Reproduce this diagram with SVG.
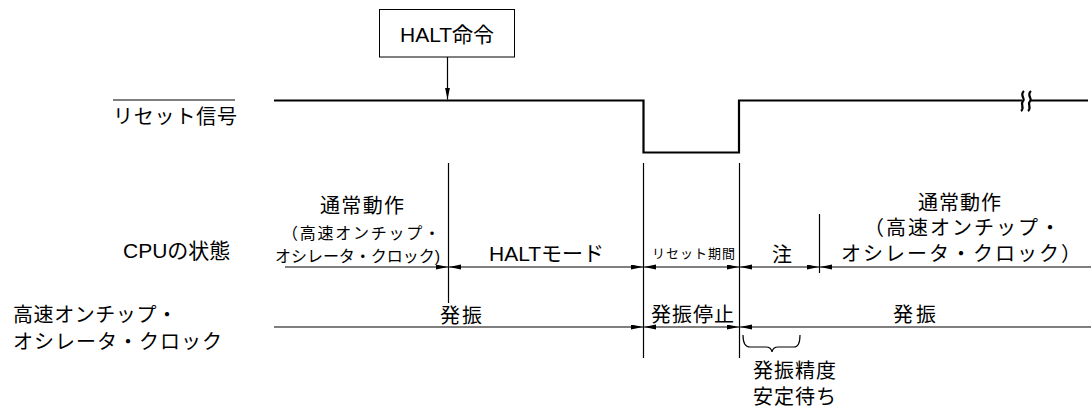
<svg xmlns="http://www.w3.org/2000/svg" width="1092" height="412" viewBox="0 0 1092 412">
<style>
text{font-family:"Liberation Sans","Noto Sans CJK JP",sans-serif;fill:#000;font-size:20px}
.l{font-size:21px}
.s{font-size:16px}
.xs{font-size:13px}
.sig{fill:none;stroke:#000;stroke-width:2.2}
.ln{fill:none;stroke:#000;stroke-width:1.2}
.brk{fill:none;stroke:#000;stroke-width:2.2}
.ar{fill:none;stroke:#000;stroke-width:1.2;marker-end:url(#ah)}
.ar2{fill:none;stroke:#000;stroke-width:1.2;marker-start:url(#ah);marker-end:url(#ah)}
.arl{fill:none;stroke:#000;stroke-width:1.2;marker-start:url(#ah)}
.box{fill:#fff;stroke:#000;stroke-width:1}
</style>
<defs>
<marker id="ah" markerUnits="userSpaceOnUse" markerWidth="13" markerHeight="6" refX="12" refY="2.5" orient="auto-start-reverse" viewBox="0 0 13 6">
<path d="M0,0 L12,2.5 L0,5 z" fill="#000"/>
</marker>
</defs>
<g id="halt-cmd">
<rect class="box" x="379.5" y="9.5" width="135" height="47.5"/>
<text class="l" x="400" y="42">HALT命令</text>
</g>
<g id="labels">
<line class="ln" x1="113" y1="100" x2="235" y2="100"/>
<text x="113" y="124" textLength="124">リセット信号</text>
<text class="l" x="123" y="258">CPUの状態</text>
<text x="13" y="322" textLength="164">高速オンチップ・</text>
<text x="13" y="348.5" textLength="209">オシレータ・クロック</text>
</g>
<g id="reset-signal">
<path class="sig" d="M274,100.5 H643.5 V152.5 H739 V100.5 H1022 M1030,100.5 H1088"/>
<path class="brk" d="M1024,91 C1019,95 1026,99 1023,101 C1020,104 1025,108 1021,111 M1031,91 C1026,95 1033,99 1030,101 C1027,104 1032,108 1028,111"/>
</g>
<g id="cpu-state">
<text x="320" y="213" textLength="84">通常動作</text>
<text class="s" x="282" y="239" textLength="158">（高速オンチップ・</text>
<text class="s" x="275" y="262" textLength="165">オシレータ・クロック)</text>
<text class="l" x="489" y="261">HALTモード</text>
<text class="xs" x="652" y="258" textLength="83">リセット期間</text>
<text x="772" y="262">注</text>
<text x="918" y="210" textLength="83">通常動作</text>
<text x="864" y="235" textLength="196">（高速オンチップ・</text>
<text x="841" y="261" textLength="240">オシレータ・クロック）</text>
</g>
<g id="oscillator">
<text x="440" y="323" textLength="42">発振</text>
<text x="651" y="322" textLength="83">発振停止</text>
<text x="893" y="322" textLength="43">発振</text>
<text x="753" y="378" textLength="83">発振精度</text>
<text x="753" y="404" textLength="83">安定待ち</text>
</g>
<g id="connectors">
<line class="ar" x1="447.5" y1="57" x2="447.5" y2="99.5"/>
<line class="ln" x1="448.5" y1="163" x2="448.5" y2="303"/>
<line class="ln" x1="643.5" y1="163" x2="643.5" y2="358"/>
<line class="ln" x1="739.5" y1="163" x2="739.5" y2="358"/>
<line class="ln" x1="819.5" y1="214" x2="819.5" y2="273"/>
<path class="ar" d="M285,267 H448"/>
<path class="ar2" d="M449,267 H643"/>
<path class="ar2" d="M644,267 H739"/>
<path class="ar2" d="M740,267 H819"/>
<path class="arl" d="M820,267 H1091"/>
<path class="ar" d="M274,327 H643"/>
<path class="ar2" d="M644,327 H739"/>
<path class="arl" d="M740,327 H1091"/>
<path class="ln" d="M743,335 Q743,347 750,347 L766,347 Q771,347 772,352 Q773,347 778,347 L794,347 Q800,347 800,335"/>
</g>
</svg>
